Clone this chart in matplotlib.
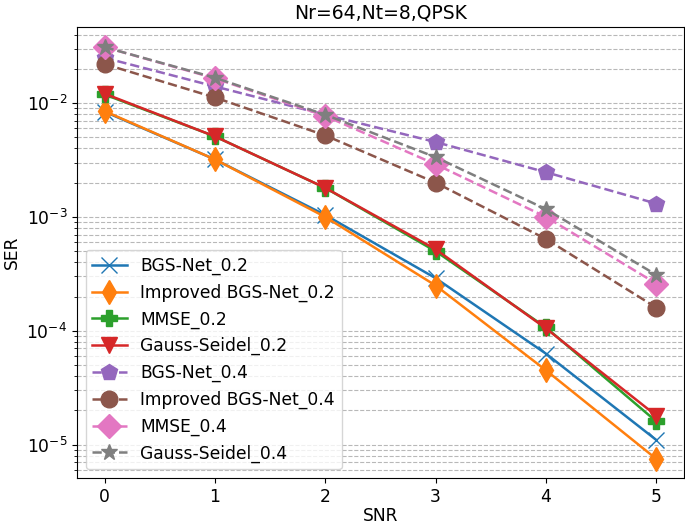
import numpy as np
import matplotlib
matplotlib.use("Agg")
import matplotlib.pyplot as plt

snr = np.array([0, 1, 2, 3, 4, 5])

# SER-Werte
bgs_02 = np.array([0.0084, 0.0032, 0.00104, 0.00029, 6.3e-5, 1.1e-5])
imp_02 = np.array([0.0085, 0.0032, 0.0010, 0.00025, 4.5e-5, 7.5e-6])
mmse_02 = np.array([0.0119, 0.0051, 0.0018, 0.00050, 1.07e-4, 1.6e-5])
gs_02 = np.array([0.0121, 0.0051, 0.0018, 0.00052, 1.05e-4, 1.8e-5])
bgs_04 = np.array([0.025, 0.0140, 0.0079, 0.00455, 0.00247, 0.00131])
imp_04 = np.array([0.022, 0.0112, 0.0052, 0.0020, 0.00064, 0.00016])
mmse_04 = np.array([0.031, 0.0165, 0.0077, 0.0029, 0.00100, 0.00026])
gs_04 = np.array([0.031, 0.0167, 0.0079, 0.00335, 0.00117, 0.00031])

plt.rcParams["font.size"] = 12.3

fig = plt.figure(figsize=(6.85, 5.28), dpi=100)
ax = fig.add_axes([0.1124, 0.0947, 0.886, 0.854])

ms = 12
lw = 1.8
ax.semilogy(snr, bgs_02, "-x", color="C0", ms=ms, lw=lw, label="BGS-Net_0.2")
ax.semilogy(snr, imp_02, "-d", color="C1", ms=ms, lw=lw, label="Improved BGS-Net_0.2")
ax.semilogy(snr, mmse_02, "-P", color="C2", ms=ms, lw=lw, label="MMSE_0.2")
ax.semilogy(snr, gs_02, "-v", color="C3", ms=ms, lw=lw, label="Gauss-Seidel_0.2")
ax.semilogy(snr, bgs_04, "--p", color="C4", ms=ms, lw=lw, label="BGS-Net_0.4")
ax.semilogy(snr, imp_04, "--o", color="C5", ms=ms, lw=lw, label="Improved BGS-Net_0.4")
ax.semilogy(snr, mmse_04, "--D", color="C6", ms=ms, lw=lw, label="MMSE_0.4")
ax.semilogy(snr, gs_04, "--*", color="C7", ms=ms, lw=lw, label="Gauss-Seidel_0.4")

ax.set_ylim(5.1e-6, 0.0465)
ax.grid(True, which="both", axis="y", ls="--", color="#b8b8b8")
ax.set_xlabel("SNR", labelpad=1)
ax.set_ylabel("SER")
ax.set_title("Nr=64,Nt=8,QPSK", fontsize=13.5)
ax.legend(loc="lower left")
fig.savefig("out.png")
